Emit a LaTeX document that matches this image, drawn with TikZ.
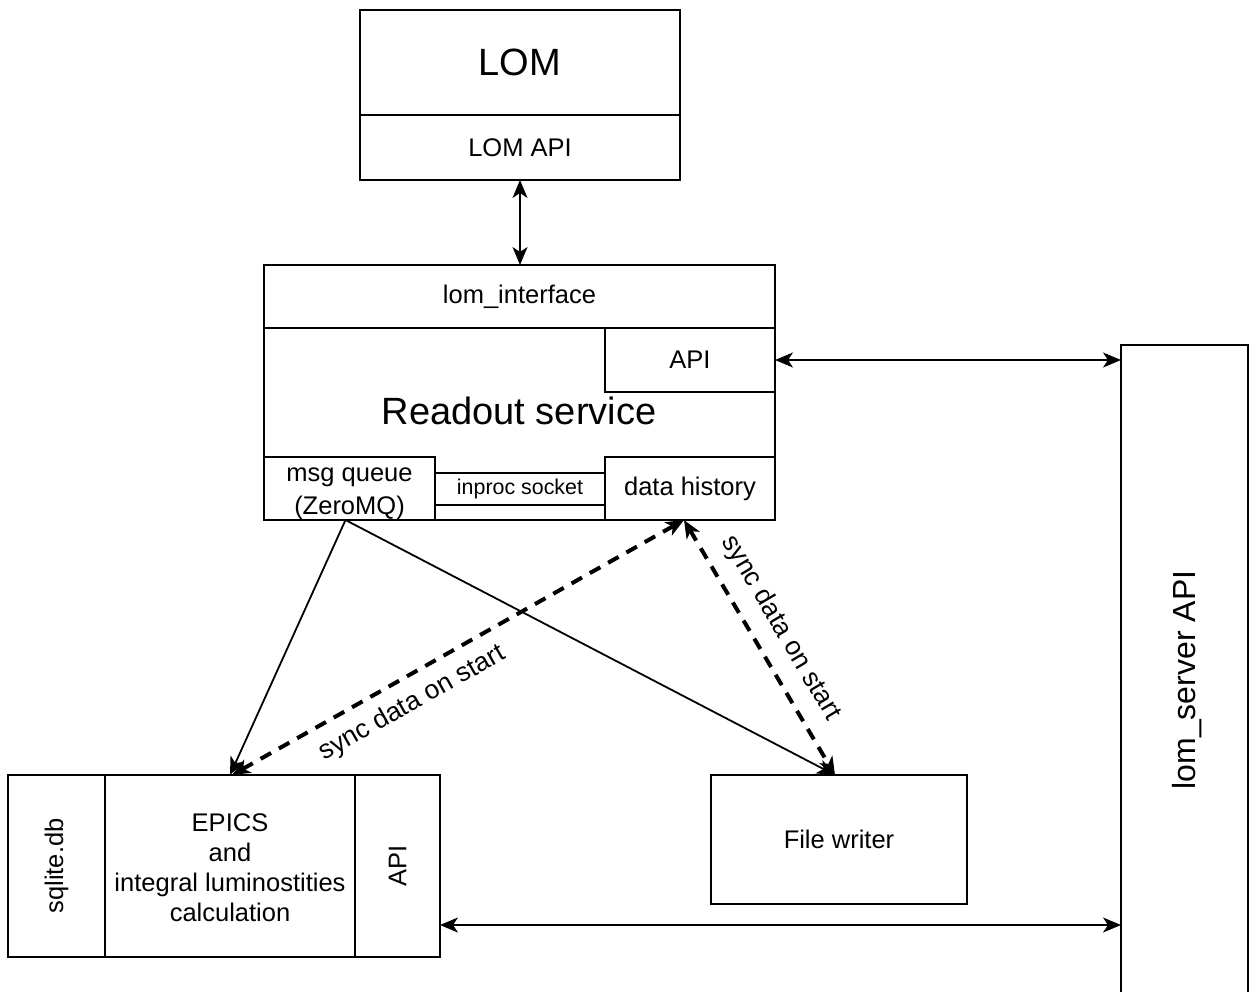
\documentclass[tikz,border=0pt]{standalone}
\usepackage{fontspec}
\setmainfont{Liberation Sans}
\usetikzlibrary{arrows.meta}
\begin{document}
\begin{tikzpicture}[x=1pt,y=-1pt,
  box/.style={draw, line width=2pt, inner sep=0pt, outer sep=0pt, align=center,
              font=\fontsize{25.5}{31}\selectfont},
  txt/.style={inner sep=0pt, align=center, font=\fontsize{25.5}{30}\selectfont},
  bigtxt/.style={inner sep=0pt, font=\fontsize{38}{44}\selectfont},
  smalltxt/.style={font=\fontsize{21.4}{26}\selectfont},
  tipA/.tip={Stealth[length=18pt,width=15pt,inset=5pt]},
  conn/.style={line width=1.8pt, -tipA},
  biconn/.style={line width=1.8pt, tipA-tipA},
  dashconn/.style={line width=4pt, dash pattern=on 12pt off 9pt, tipA-tipA},
  lbl/.style={font=\fontsize{26.5}{30}\selectfont, inner sep=0pt}]
\useasboundingbox (0,0) rectangle (1256,991);

% LOM
\node[box, minimum width=320pt, minimum height=105pt, font=\fontsize{38}{44}\selectfont] (lom) at (520,62.5) {LOM};
\node[box, minimum width=320pt, minimum height=65pt] (lomapi) at (520,147.5) {LOM API};

% Readout service
\node[box, minimum width=511pt, minimum height=255pt] (ro) at (519.5,392.5) {};
\node[box, minimum width=511pt, minimum height=63pt] (lomif) at (519.5,296.5) {lom\_interface};
\node[box, minimum width=170pt, minimum height=64pt] (api) at (690,360) {API};
\node[bigtxt] (rotext) at (519,411) {Readout service};
\node[box, minimum width=171pt, minimum height=63pt] (mq) at (349.5,488.5) {};
\node[inner sep=0pt, align=center, font=\fontsize{25.5}{33}\selectfont] (mqt) at (349.5,494) {msg queue\\(ZeroMQ)};
\node[box, minimum width=170pt, minimum height=63pt] (dh) at (690,488.5) {data history};
\node[box, minimum width=170pt, minimum height=32pt, smalltxt] (ip) at (520,489) {inproc socket};

% bottom-left block
\node[box, minimum width=97pt, minimum height=182pt] (sq) at (56.5,866) {};
\node[txt, rotate=90] (sqt) at (sq) {sqlite.db};
\node[box, minimum width=250pt, minimum height=182pt] (ep) at (230,866) {};
\node[txt] (ept) at (230,868) {EPICS\\and\\integral luminostities\\calculation};
\node[box, minimum width=85pt, minimum height=182pt] (bapi) at (397.5,866) {};
\node[txt, rotate=90] (bapit) at (bapi) {API};

% File writer
\node[box, minimum width=256pt, minimum height=129pt] (fw) at (839,839.5) {File writer};

% lom_server API
\begin{scope}
\clip (0,0) rectangle (1256,991);
\node[box, minimum width=127pt, minimum height=660pt] (ls) at (1184.5,675) {};
\end{scope}
\node[inner sep=0pt, rotate=90, font=\fontsize{32}{38}\selectfont] (lst) at (1187,680) {lom\_server API};

% connectors
\coordinate (by) at (0,925);
\draw[biconn] (lomapi.south) -- (lomapi.south |- lomif.north);
\draw[biconn] (api.east) -- (ls.west |- api.east);
\draw[biconn] (bapi.east |- by) -- (ls.west |- by);
\draw[conn] ([xshift=-4pt]mq.south) -- (ep.north);
\draw[conn] ([xshift=-4pt]mq.south) -- ([xshift=-4pt]fw.north);
\draw[dashconn] ([xshift=2pt]ep.north) -- node[lbl, sloped, below=12pt, pos=0.37] {sync data on start} ([xshift=-6pt]dh.south);
\draw[dashconn] ([xshift=-6pt]dh.south) -- node[lbl, sloped, above=14pt, pos=0.48] {sync data on start} ([xshift=-4pt]fw.north);
\end{tikzpicture}
\end{document}
